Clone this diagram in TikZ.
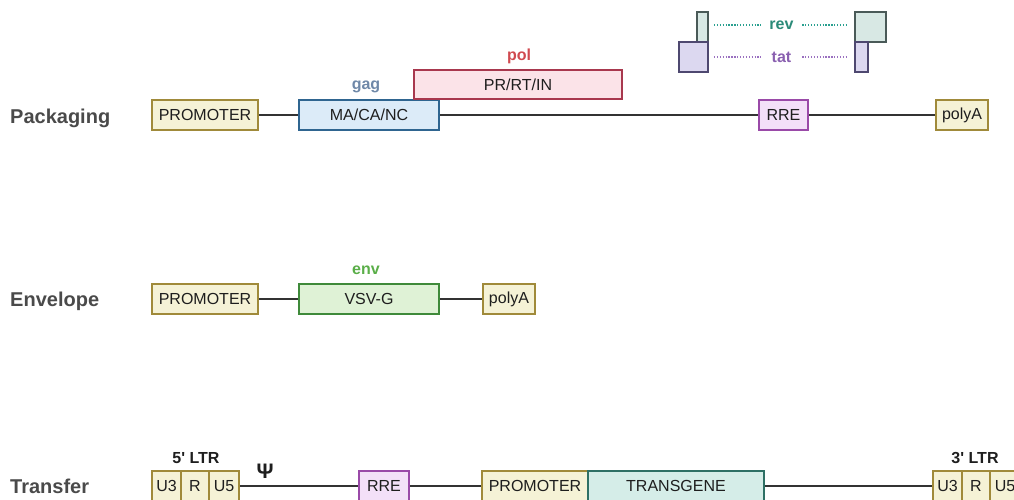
\documentclass[tikz,border=0pt]{standalone}
\usepackage{fontspec}
\setmainfont{Liberation Sans}
\newfontfamily\nomapfont{Liberation Sans}
\definecolor{txt}{HTML}{1E1E1E}
\definecolor{rowc}{HTML}{4A4A4A}
\definecolor{lineC}{HTML}{333333}
\definecolor{creamF}{HTML}{F5F2D6}
\definecolor{creamD}{HTML}{A08A3A}
\definecolor{blueF}{HTML}{DCEBF8}
\definecolor{blueD}{HTML}{2F6590}
\definecolor{gagC}{HTML}{6F88A8}
\definecolor{pinkF}{HTML}{FBE3E8}
\definecolor{pinkD}{HTML}{A8384E}
\definecolor{polC}{HTML}{D04A50}
\definecolor{rreF}{HTML}{F3E0F8}
\definecolor{rreD}{HTML}{9A4AA8}
\definecolor{greenF}{HTML}{DFF2D6}
\definecolor{greenD}{HTML}{3F8A3A}
\definecolor{envC}{HTML}{5AAE48}
\definecolor{tgF}{HTML}{D5EDE8}
\definecolor{tgD}{HTML}{2E7065}
\definecolor{revF}{HTML}{D8E8E4}
\definecolor{revD}{HTML}{4A5A58}
\definecolor{revC}{HTML}{2A8A78}
\definecolor{revDot}{HTML}{2AA090}
\definecolor{tatF}{HTML}{DCD8F0}
\definecolor{tatD}{HTML}{4E4870}
\definecolor{tatC}{HTML}{8A60B0}
\definecolor{tatDot}{HTML}{9A70C0}
\tikzset{
  box/.style={draw, line width=1.9pt, minimum height=30pt, inner sep=0pt,
    font=\fontsize{16}{16}\selectfont, text=txt},
  cream/.style={box, fill=creamF, draw=creamD},
  bluebox/.style={box, fill=blueF, draw=blueD},
  pinkbox/.style={box, fill=pinkF, draw=pinkD},
  rrebox/.style={box, fill=rreF, draw=rreD},
  greenbox/.style={box, fill=greenF, draw=greenD},
  tgbox/.style={box, fill=tgF, draw=tgD},
  revbox/.style={box, fill=revF, draw=revD},
  tatbox/.style={box, fill=tatF, draw=tatD},
  rowlab/.style={font=\fontsize{20}{20}\selectfont\bfseries, text=rowc, anchor=west, inner sep=0pt},
  genelab/.style={font=\fontsize{16}{16}\selectfont\bfseries, inner sep=0pt},
  backbone/.style={line width=2pt, draw=lineC},
  dots/.style={line width=1.7pt, dash pattern=on 1.3pt off 1.6pt},
}
\begin{document}
\begin{tikzpicture}[x=1pt,y=-1pt]
\useasboundingbox (0,0) rectangle (1014,499);
\clip (0,0) rectangle (1014,499);
% ---------- Packaging ----------
\node[rowlab] (packlab) at (10,118) {Packaging};
\node[cream, minimum width=106pt] (pprom) at (205,115) {PROMOTER};
\node[bluebox, minimum width=140pt] (pgag) at (369,115) {MA/CA/NC};
\node[pinkbox, minimum width=208pt, minimum height=29pt] (ppol) at (518,84.5) {PR/RT/IN};
\node[rrebox, minimum width=49pt] (prre) at (783.5,115) {RRE};
\node[cream, minimum width=52pt] (ppolyA) at (962,115) {polyA};
\node[genelab, text=gagC] (gaglab) at (366,87) {gag};
\node[genelab, text=polC] (pollab) at (519,56) {pol};
\draw[backbone] (pprom.east) -- (pgag.west);
\draw[backbone] (pgag.east) -- (prre.west);
\draw[backbone] (prre.east) -- (ppolyA.west);
% rev / tat
\node[revbox, minimum width=11pt] (revA) at (702.5,27) {};
\node[tatbox, minimum width=29pt] (tatA) at (693.5,57) {};
\node[revbox, minimum width=31pt] (revB) at (870.5,27) {};
\node[tatbox, minimum width=13pt] (tatB) at (861.5,57) {};
\node[genelab, text=revC, minimum width=41pt] (revlab) at (781.5,25) {rev};
\node[genelab, text=tatC, minimum width=41pt] (tatlab) at (781.5,57) {tat};
\draw[dots, draw=revDot] ([xshift=5pt]revA.east |- revlab.center) -- (revlab.west);
\draw[dots, draw=revDot] (revlab.east) -- ([xshift=-7pt]revB.west |- revlab.center);
\draw[dots, draw=tatDot] ([xshift=5pt]tatA.east |- tatlab.center) -- (tatlab.west);
\draw[dots, draw=tatDot] (tatlab.east) -- ([xshift=-7pt]tatB.west |- tatlab.center);
% ---------- Envelope ----------
\node[rowlab] (envrow) at (10,301) {Envelope};
\node[cream, minimum width=106pt] (eprom) at (205,299) {PROMOTER};
\node[greenbox, minimum width=140pt] (evsv) at (369,299) {VSV-G};
\node[cream, minimum width=52pt] (epolyA) at (509,299) {polyA};
\node[genelab, text=envC] (envlab) at (366,270) {env};
\draw[backbone] (eprom.east) -- (evsv.west);
\draw[backbone] (evsv.east) -- (epolyA.west);
% ---------- Transfer ----------
\node[rowlab] (tranlab) at (10,486) {Transfer};
\node[cream, minimum width=29pt] (tU3a) at (166.5,486) {U3};
\node[cream, minimum width=28pt] (tRa) at (195,486) {R};
\node[cream, minimum width=30pt] (tU5a) at (224,486) {U5};
\node[rrebox, minimum width=50pt] (trre) at (384,486) {RRE};
\node[cream, minimum width=106pt] (tprom) at (535,486) {PROMOTER};
\node[tgbox, minimum width=176pt] (ttg) at (676,486) {TRANSGENE};
\node[cream, minimum width=29pt] (tU3b) at (947.5,486) {U3};
\node[cream, minimum width=28pt] (tRb) at (976,486) {R};
\node[cream, minimum width=30pt] (tU5b) at (1005,486) {U5};
\node[genelab, text=txt, font=\nomapfont\fontsize{16}{16}\selectfont\bfseries] (ltr5) at (196,458) {5' LTR};
\node[genelab, text=txt, font=\nomapfont\fontsize{16}{16}\selectfont\bfseries] (ltr3) at (975,458) {3' LTR};
\node[font=\fontsize{21}{21}\selectfont\bfseries, text=txt, inner sep=0pt] (psi) at (265,471) {Ψ};
\draw[backbone] (tU5a.east) -- (trre.west);
\draw[backbone] (trre.east) -- (tprom.west);
\draw[backbone] (ttg.east) -- (tU3b.west);
\end{tikzpicture}
\end{document}
